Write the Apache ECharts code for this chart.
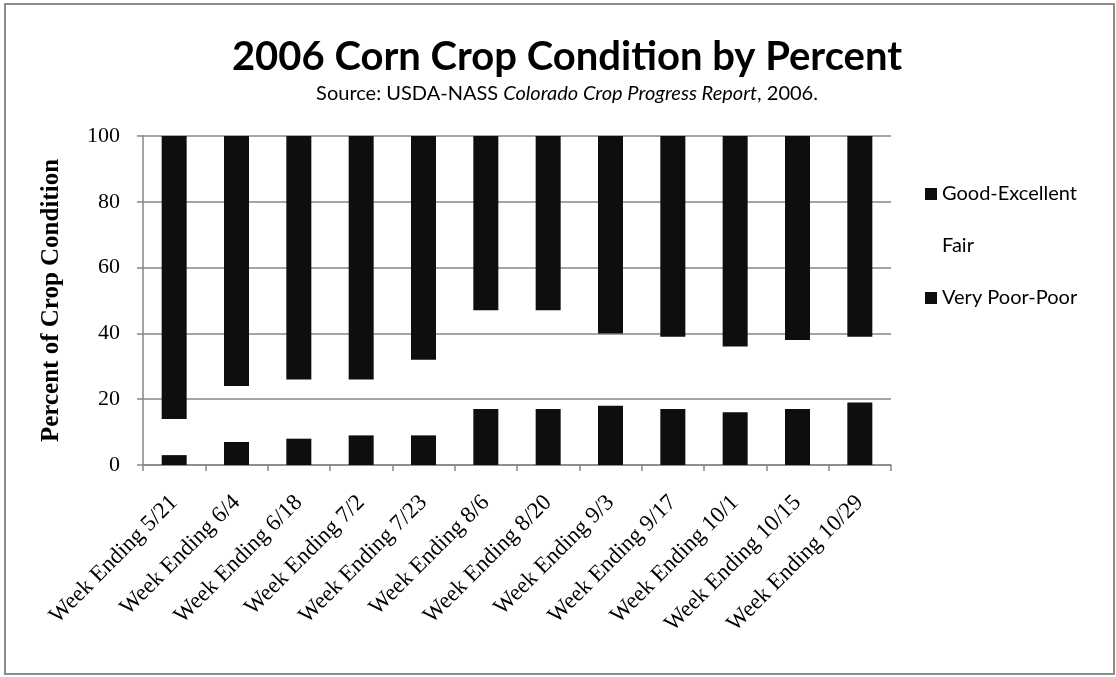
<!DOCTYPE html>
<html>
<head>
<meta charset="utf-8">
<script src="https://cdn.jsdelivr.net/npm/echarts@6/dist/echarts.min.js"></script>
<style>
  html, body { margin: 0; padding: 0; background: #fff; }
  #chart { width: 1116px; height: 677px; }
</style>
</head>
<body>
<div id="chart"></div>
<script>
// Weekly reporting periods
const weeks = [
  'Week Ending 5/21', 'Week Ending 6/4', 'Week Ending 6/18', 'Week Ending 7/2',
  'Week Ending 7/23', 'Week Ending 8/6', 'Week Ending 8/20', 'Week Ending 9/3',
  'Week Ending 9/17', 'Week Ending 10/1', 'Week Ending 10/15', 'Week Ending 10/29'
];

// Share of the crop in each condition class (percent)
const veryPoorPoor  = [3, 7, 8, 9, 9, 17, 17, 18, 17, 16, 17, 19];
const fair          = [11, 17, 18, 17, 23, 30, 30, 22, 22, 20, 21, 20];
const goodExcellent = [86, 76, 74, 74, 68, 53, 53, 60, 61, 64, 62, 61];

const yTicks = [0, 20, 40, 60, 80, 100];

const serif = '"Liberation Serif", "Times New Roman", serif';
const sans = 'Lato, "Open Sans", sans-serif';

const chart = echarts.init(document.getElementById('chart'), null, { renderer: 'canvas' });

const barWidth = 25;
const gray = '#878787';

chart.setOption({
  animation: false,
  backgroundColor: '#ffffff',
  graphic: [{
    type: 'rect',
    shape: { x: 5, y: 4, width: 1109, height: 670 },
    style: { fill: 'none', stroke: '#8c8c8c', lineWidth: 2 },
    silent: true
  }],
  title: {
    text: '2006 Corn Crop Condition by Percent',
    subtext: '{n|Source: USDA-NASS }{i|Colorado Crop Progress Report}{n|, 2006.}',
    left: 562,
    textAlign: 'center',
    top: 32,
    itemGap: 7,
    textStyle: { fontFamily: sans, fontWeight: 'bold', fontSize: 40, color: '#000' },
    subtextStyle: {
      rich: {
        n: { fontFamily: sans, fontSize: 20, color: '#000' },
        i: { fontFamily: sans, fontSize: 20, fontStyle: 'italic', color: '#000' }
      }
    }
  },
  legend: {
    orient: 'vertical',
    left: 920,
    top: 179,
    itemWidth: 12,
    itemHeight: 12,
    itemGap: 32,
    icon: 'rect',
    data: ['Good-Excellent', 'Fair', 'Very Poor-Poor'],
    textStyle: { fontFamily: sans, fontSize: 20, color: '#000' }
  },
  grid: { left: 143, right: 225, top: 136, bottom: 212, containLabel: false },
  xAxis: {
    type: 'category',
    data: weeks,
    axisLine: { show: true, lineStyle: { color: gray, width: 1.5 } },
    axisTick: { show: true, length: 6, alignWithLabel: false, lineStyle: { color: gray, width: 1.5 } },
    axisLabel: { rotate: 45, margin: 34, fontFamily: serif, fontSize: 23, color: '#000', interval: 0 }
  },
  yAxis: {
    type: 'value',
    min: yTicks[0],
    max: yTicks[yTicks.length - 1],
    interval: 20,
    name: 'Percent of Crop Condition',
    nameLocation: 'middle',
    nameGap: 79,
    nameRotate: 90,
    nameTextStyle: { fontFamily: serif, fontWeight: 'bold', fontSize: 25, color: '#000' },
    axisLine: { show: true, lineStyle: { color: gray, width: 1.5 } },
    axisTick: { show: true, length: 6, lineStyle: { color: gray, width: 1.5 } },
    axisLabel: { margin: 23, fontFamily: serif, fontSize: 22, color: '#000' },
    splitLine: { show: true, lineStyle: { color: gray, width: 1.5 } }
  },
  series: [
    { name: 'Very Poor-Poor', type: 'bar', stack: 'cond', barWidth, data: veryPoorPoor,
      itemStyle: { color: '#0e0e0e' } },
    { name: 'Fair', type: 'bar', stack: 'cond', barWidth, data: fair,
      itemStyle: { color: 'rgba(255,255,255,0)' } },
    { name: 'Good-Excellent', type: 'bar', stack: 'cond', barWidth, data: goodExcellent,
      itemStyle: { color: '#0e0e0e' } }
  ]
});
</script>
</body>
</html>
